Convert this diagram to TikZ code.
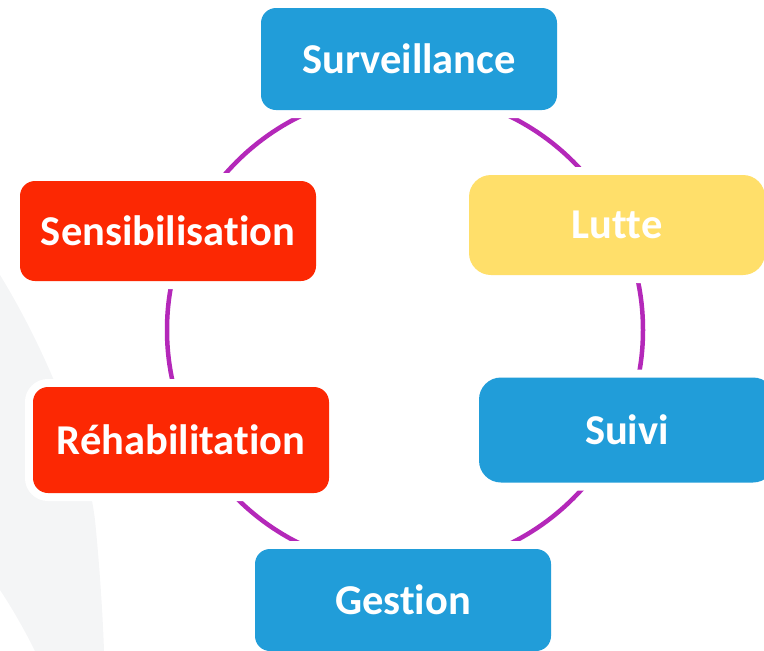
\documentclass[tikz,border=0pt]{standalone}
\usepackage{fontspec}
\setmainfont{Carlito}[Ligatures=NoCommon,RawFeature={-liga;-dlig}]
\definecolor{cblue}{RGB}{33,157,217}
\definecolor{cred}{RGB}{252,40,3}
\definecolor{cyellow}{RGB}{255,223,106}
\definecolor{cpurple}{RGB}{180,40,185}
\definecolor{cgray}{RGB}{244,245,246}
\begin{document}
\begin{tikzpicture}[x=1pt,y=1pt,
  box/.style={rectangle, rounded corners=15pt, minimum width=296pt, minimum height=102pt,
    preaction={draw=white, line width=16pt}, text=white,
    font=\fontsize{42.5}{50}\selectfont\bfseries, inner sep=0pt},
  softbox/.style={box, rounded corners=22pt},
  ring/.style={draw=cpurple, line width=4.5pt}]
\useasboundingbox (0,0) rectangle (764,-651);
\clip (0,0) rectangle (764,-651);
% faint background swoosh
\fill[cgray] (0,-275) .. controls (40,-340) and (85,-440) .. (95,-520)
  .. controls (100,-570) and (103,-620) .. (104,-651) -- (35,-651)
  .. controls (22,-625) and (10,-605) .. (0,-590) -- cycle;
% ring
\coordinate (c) at (405,-330);
\draw[ring] (c) circle (238);
% boxes
\node[box, fill=cblue] (surv) at (409,-59) {Surveillance};
\node[softbox, fill=cyellow, minimum height=100pt] (lutte) at (617,-225) {Lutte};
\node[softbox, fill=cblue, minimum height=105pt] (suivi) at (627,-430) {Suivi};
\node[box, fill=cblue] (gest) at (403,-600) {Gestion};
\node[box, fill=cred, minimum height=106pt] (rehab) at (181,-440) {Réhabilitation};
\node[box, fill=cred, minimum height=100pt] (sens) at (168,-231) {Sensibilisation};
\end{tikzpicture}
\end{document}
